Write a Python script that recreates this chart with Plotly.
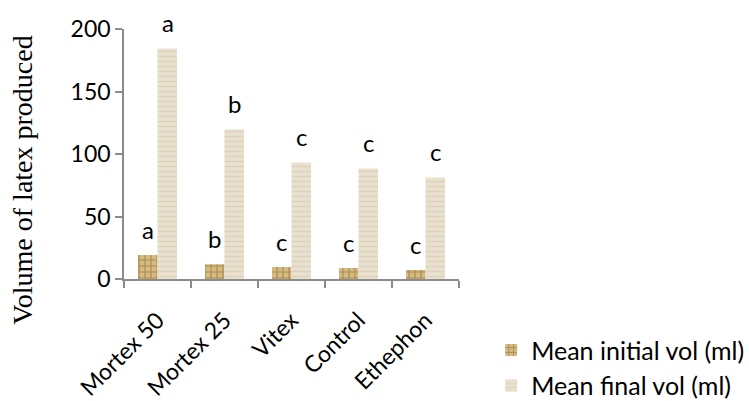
import plotly.graph_objects as go

categories = ["Mortex 50", "Mortex 25", "Vitex", "Control", "Ethephon"]
initial_vol = [19.2, 11.8, 9.6, 8.8, 7.2]
final_vol = [184.5, 119.7, 93.3, 88.5, 81.3]
initial_letters = ["a", "b", "c", "c", "c"]
final_letters = ["a", "b", "c", "c", "c"]
y_ticks = [0, 50, 100, 150, 200]
y_title = "Volume of latex produced"

SANS = "Lato, 'Open Sans', sans-serif"
AXIS_COLOR = "#8c8c8c"

fig = go.Figure()
fig.add_trace(go.Bar(
    name="Mean initial vol (ml)", x=categories, y=initial_vol,
    marker=dict(color="#cfb175", line=dict(width=0),
                pattern=dict(shape="+", fgcolor="#7d5e2c", bgcolor="#d6ba80",
                             size=6, solidity=0.35)),
))
fig.add_trace(go.Bar(
    name="Mean final vol (ml)", x=categories, y=final_vol,
    marker=dict(color="#e6dcc8", line=dict(width=0),
                pattern=dict(shape="-", fgcolor="#d2c5aa", bgcolor="#e9e1cf",
                             size=5, solidity=0.3)),
))

annotations = []
for i, c in enumerate(categories):
    annotations.append(dict(x=c, y=initial_vol[i], text=initial_letters[i],
                            xref="x", yref="y", showarrow=False,
                            xshift=-10, yshift=26, yanchor="middle",
                            font=dict(family=SANS, size=24, color="black")))
    annotations.append(dict(x=c, y=final_vol[i], text=final_letters[i],
                            xref="x", yref="y", showarrow=False,
                            xshift=10, yshift=26, yanchor="middle",
                            font=dict(family=SANS, size=24, color="black")))
annotations.append(dict(x=-0.305, y=0.396, xref="paper", yref="paper",
                        text=y_title, textangle=-90, showarrow=False,
                        xanchor="center", yanchor="middle",
                        font=dict(family="'Liberation Serif', 'Times New Roman', serif",
                                  size=28, color="black")))

fig.update_layout(
    width=749, height=401,
    margin=dict(l=124, r=290, t=29, b=122, pad=0, autoexpand=False),
    paper_bgcolor="white", plot_bgcolor="white",
    barmode="group", bargap=0.418, bargroupgap=0,
    annotations=annotations,
    showlegend=True,
    legend=dict(x=1.096, y=-0.193, xanchor="left", yanchor="top",
                font=dict(family=SANS, size=25, color="black"),
                bgcolor="rgba(0,0,0,0)", tracegroupgap=0, itemwidth=30),
    xaxis=dict(showline=True, linecolor=AXIS_COLOR, linewidth=1.5,
               ticks="outside", tickson="boundaries", ticklen=7,
               tickcolor=AXIS_COLOR, tickwidth=1.5, tickangle=-45,
               ticklabelstandoff=17,
               tickfont=dict(family=SANS, size=23, color="black"),
               showgrid=False, automargin=False),
    yaxis=dict(range=[0, 200], tickvals=y_ticks, showline=True,
               linecolor=AXIS_COLOR, linewidth=1.5, ticks="outside",
               ticklen=7, tickcolor=AXIS_COLOR, tickwidth=1.5,
               tickfont=dict(family=SANS, size=23, color="black"),
               showgrid=False, zeroline=False, automargin=False),
)

fig.write_html("out.html", config={"displayModeBar": False},
               post_script="document.body.style.margin='0';document.body.style.overflow='hidden';")
